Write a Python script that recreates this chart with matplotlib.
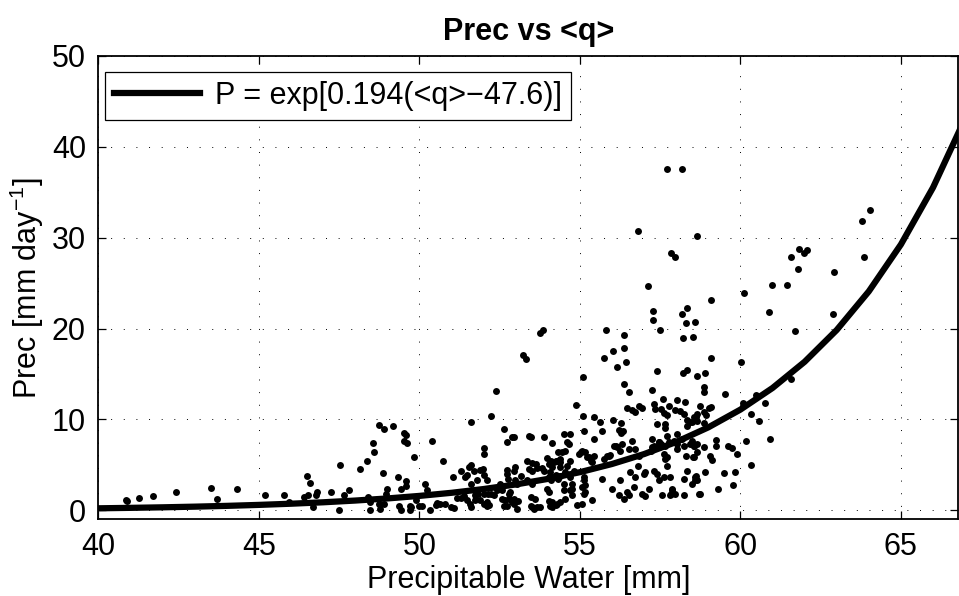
import numpy as np
import matplotlib
matplotlib.use("Agg")
import matplotlib.pyplot as plt

plt.rcParams['font.family'] = ['Liberation Sans', 'DejaVu Sans']
plt.rcParams['mathtext.fontset'] = 'custom'
plt.rcParams['mathtext.rm'] = 'Liberation Sans'
plt.rcParams['mathtext.it'] = 'Liberation Sans'

q_obs = [
    40.86, 40.90, 41.27, 41.69, 42.43, 43.50, 43.68, 44.32, 45.18, 45.78, 45.93, 46.39,
    46.52, 46.51, 46.60, 46.69, 46.77, 46.82, 47.25, 47.51, 47.50, 47.64, 47.81, 48.16,
    48.37, 48.55, 48.59, 48.75, 48.89, 49.19, 49.53, 49.57, 49.53, 49.62, 48.85, 49.32,
    49.58, 49.58, 49.41, 49.00, 48.96, 48.40, 48.45, 48.73, 48.89, 48.78, 48.45, 49.37,
    49.41, 49.70,
    52.37, 52.23, 51.60, 52.63, 52.87, 52.94, 52.73, 53.41, 53.48, 53.87, 54.13, 50.39,
    49.83, 50.72, 52.02, 52.02, 51.03, 51.28, 51.43, 51.48, 51.54, 51.61, 51.70, 51.78,
    51.90, 51.98, 52.00, 52.09, 51.60, 50.17, 50.24, 49.88, 49.70, 49.75, 49.98, 50.08,
    50.34, 50.52, 50.65, 50.79, 50.97, 51.07, 51.17, 51.28, 51.40, 51.59, 51.62, 51.74,
    51.81, 51.90, 52.00, 52.09, 52.13, 52.23, 52.31, 52.42, 52.52, 52.57, 52.73, 52.75,
    52.83, 52.73, 52.99, 52.94, 52.99, 53.04, 52.78, 52.94, 53.06, 52.63, 52.73, 52.94,
    53.04, 53.35, 53.51, 53.64, 53.66, 53.40, 53.51, 53.82, 53.98, 54.10, 54.24, 53.87,
    54.03, 54.10, 53.35, 53.51, 53.98, 54.03, 53.46, 53.61, 53.66, 53.51, 53.56, 53.77,
    54.03, 54.13, 54.08, 54.32, 54.37, 54.24, 54.31,
    53.15, 54.03, 54.08, 51.48, 51.74, 52.00, 52.09, 52.57, 52.68, 52.78, 52.88, 53.46,
    54.29, 50.55, 52.16,
    56.38, 56.54, 57.24, 54.87, 55.08, 55.12, 55.43, 55.64, 55.69, 55.43, 56.02, 56.29,
    56.21, 56.35, 56.29, 56.46, 56.62, 56.70, 56.83, 56.93, 57.32, 57.35, 57.58, 57.77,
    57.54, 57.61, 57.71, 58.02, 58.26, 57.97, 58.11, 58.23, 58.33, 58.54, 58.65, 57.40,
    57.66, 57.66, 57.71, 58.02, 58.33, 58.44, 57.25, 57.45, 57.51, 57.77, 57.93, 58.02,
    58.18, 58.02, 58.23, 58.44, 58.54, 58.29, 58.54, 58.65,
    54.50, 54.70, 54.60, 54.55, 54.44, 54.39, 54.29, 54.18, 54.13, 54.39, 54.60, 54.80,
    55.02, 55.17, 55.22, 55.33, 55.43, 55.74, 55.90, 56.11, 56.26, 56.52, 56.73, 56.62,
    56.83, 57.20, 57.30, 57.45, 57.61, 57.71,
    54.18, 54.39, 54.55, 54.70, 54.50, 54.75, 55.12, 55.12, 55.07, 55.12, 54.70, 54.75,
    54.55, 54.39, 54.24, 54.13, 54.91, 55.05, 55.38, 55.69, 56.00, 56.21, 56.26, 56.37,
    56.52, 56.57, 56.68, 56.80, 56.94, 57.04, 57.14, 57.30, 57.45, 57.40, 57.61, 57.71,
    57.66, 57.82, 57.87, 57.82, 57.56, 57.97, 58.23, 58.23, 58.34, 58.60, 58.65, 58.70,
    54.49, 54.75, 55.15, 55.17, 56.47, 56.71, 56.99, 57.02, 57.87, 57.85,
    54.65, 56.05, 56.16, 56.31, 57.25, 57.35, 57.45, 57.66, 54.70, 54.96, 55.07, 55.27,
    55.38, 55.84, 55.95,
    58.88, 58.88, 59.52, 60.47, 60.07, 60.77, 60.33, 60.59, 58.75, 59.07, 59.02, 58.86,
    58.94, 58.63, 58.65, 58.50, 58.88,
    58.50, 58.55, 58.65, 58.86, 59.23, 59.23, 59.60, 59.74, 59.90, 60.16, 60.93, 59.04,
    59.11, 58.52, 58.90, 59.48, 59.82, 60.33, 58.63, 58.60, 58.50, 59.29, 59.77, 58.73,
    53.77, 53.85, 53.23, 53.32, 55.08,
    57.84, 57.97, 57.11, 59.08, 60.11, 57.28, 57.28, 58.18, 58.32, 58.31, 58.57, 55.80,
    57.49, 56.36, 58.22, 58.52, 56.03, 56.36, 55.76, 56.42, 56.16, 59.08, 60.03, 57.40,
    58.21, 58.32, 58.65, 58.90,
    57.71, 58.18, 56.80, 58.65,
    64.04, 63.78, 61.84, 61.97, 62.06, 61.58, 63.86, 61.80, 62.92, 60.98, 61.45, 60.89,
    62.87, 61.71, 61.58,
]
p_obs = [
    1.17, 1.00, 1.39, 1.53, 1.97, 2.44, 1.24, 2.30, 1.68, 1.68, 0.91, 1.50,
    1.68, 3.80, 3.03, 0.33, 1.68, 1.97, 1.97, 5.00, 0.03, 1.68, 2.22, 4.56,
    5.44, 7.41, 6.39, 9.42, 8.95, 9.28, 8.47, 8.30, 7.59, 7.41, 4.13, 3.65,
    3.21, 2.70, 2.30, 2.40, 1.79, 1.50, 0.91, 0.73, 0.73, 0.18, 0.00, 0.44,
    0.00, 0.00,
    13.18, 10.33, 9.70, 8.95, 8.03, 8.03, 7.56, 8.14, 8.03, 8.03, 7.45, 7.59,
    5.91, 5.44, 6.82, 6.24, 3.65, 4.38, 3.65, 3.90, 4.74, 5.00, 4.30, 3.36,
    4.46, 4.53, 3.90, 3.29, 2.92, 2.85, 2.19, 1.10, 0.50, 0.40, 0.47, 0.47,
    0.00, 0.55, 0.66, 0.66, 0.37, 0.25, 1.39, 1.39, 1.53, 0.73, 0.37, 1.64,
    1.83, 1.10, 0.73, 0.44, 1.83, 1.75, 1.64, 2.19, 2.92, 2.19, 4.00, 3.47,
    2.00, 4.40, 4.82, 4.38, 3.29, 2.92, 1.28, 1.28, 1.02, 0.44, 0.44, 0.73,
    0.18, 5.48, 5.18, 5.10, 4.67, 4.56, 4.30, 4.67, 5.77, 5.48, 5.40, 4.30,
    3.65, 3.29, 3.29, 2.92, 2.38, 2.00, 1.46, 1.28, 0.37, 0.37, 0.18, 0.37,
    1.02, 0.91, 0.44, 6.39, 5.30, 3.94, 3.47,
    3.83, 5.11, 4.20, 1.10, 1.10, 1.83, 0.91, 1.28, 1.10, 1.83, 0.91, 0.44,
    0.73, 0.80, 0.55,
    13.94, 13.03, 13.22, 11.54, 10.33, 8.76, 10.22, 9.67, 8.69, 7.85, 9.93, 9.56,
    8.84, 8.76, 8.47, 11.25, 11.03, 10.77, 11.50, 11.25, 11.75, 11.14, 12.30, 11.50,
    11.14, 10.66, 10.51, 12.12, 11.97, 11.03, 10.88, 10.59, 9.93, 10.22, 10.59, 9.49,
    9.49, 9.05, 8.21, 8.40, 9.31, 9.67, 7.85, 7.56, 7.30, 7.48, 7.67, 7.30,
    7.85, 6.76, 7.12, 7.30, 7.12, 6.02, 5.91, 6.39,
    8.40, 8.40, 7.48, 6.57, 6.39, 5.66, 5.48, 5.30, 4.74, 4.74, 4.93, 4.38,
    6.39, 6.39, 5.84, 5.48, 6.02, 5.66, 6.02, 7.12, 6.57, 6.76, 6.76, 7.67,
    6.02, 6.57, 7.12, 6.93, 6.21, 5.84,
    3.65, 3.83, 4.20, 3.65, 2.92, 2.92, 3.65, 3.29, 2.55, 1.83, 2.19, 1.64,
    1.28, 0.91, 0.55, 0.37, 0.55, 0.66, 1.10, 3.47, 2.38, 1.64, 3.29, 1.28,
    1.64, 4.20, 2.55, 4.93, 1.83, 4.20, 2.38, 4.38, 3.29, 4.02, 3.65, 4.93,
    5.66, 3.65, 2.38, 1.64, 1.64, 1.83, 1.64, 3.47, 4.38, 3.65, 3.29, 1.83,
    2.19, 2.38, 2.74, 2.00, 2.00, 3.65, 4.02, 1.53, 2.19, 1.75,
    7.30, 7.12, 6.93, 7.30, 7.01, 6.93, 7.48, 7.12, 5.48, 6.21, 6.57, 5.84,
    5.30, 6.02, 6.13,
    13.60, 13.03, 12.85, 12.70, 11.83, 11.83, 10.59, 9.82, 11.50, 11.39, 11.25, 10.77,
    10.51, 10.30, 9.78, 9.67, 9.56,
    7.67, 7.12, 7.30, 6.93, 7.74, 7.12, 7.12, 6.83, 6.21, 7.59, 7.85, 6.02,
    5.55, 5.91, 4.27, 4.13, 4.27, 5.00, 3.76, 3.36, 2.85, 2.30, 2.74, 1.83,
    19.53, 19.80, 17.09, 16.68, 14.68,
    28.29, 27.85, 24.68, 23.19, 23.91, 21.94, 20.89, 21.65, 22.23, 20.59, 20.73, 19.82,
    19.82, 19.24, 18.91, 19.06, 17.56, 17.85, 16.79, 16.35, 15.77, 16.79, 16.35, 15.30,
    15.15, 15.44, 14.82, 15.11,
    37.53, 37.53, 30.74, 30.12,
    33.00, 31.80, 28.77, 28.29, 28.59, 27.85, 27.85, 26.50, 26.18, 24.83, 24.83, 21.83,
    21.65, 19.72, 14.42,
]

# fitted curve P = exp[0.194(<q>-47.6)], values at whole millimetres
q_fit = [40, 41, 42, 43, 44, 45, 46, 47, 48, 49, 50, 51, 52, 53,
         54, 55, 56, 57, 58, 59, 60, 61, 62, 63, 64, 65, 66, 67]
p_fit = [0.229, 0.278, 0.337, 0.410, 0.497, 0.604, 0.733, 0.890, 1.081, 1.312,
         1.593, 1.934, 2.348, 2.851, 3.461, 4.202, 5.102, 6.194, 7.520, 9.130,
         11.085, 13.459, 16.340, 19.838, 24.085, 29.241, 35.50, 43.10]

fig = plt.figure(figsize=(9.59, 5.96), dpi=100)
ax = fig.add_axes([0.1027, 0.1284, 0.8963, 0.7781])

ax.plot(q_obs, p_obs, 'o', color='k', markersize=5.0, markeredgewidth=0, zorder=2)
ax.plot(q_fit, p_fit, '-', color='k', linewidth=4.5, zorder=3,
        label='P = exp[0.194(<q>\u221247.6)]')

ax.set_xlim(40, 66.78)
ax.set_ylim(-1, 50)
ax.set_xticks([40, 45, 50, 55, 60, 65])
ax.set_yticks([0, 10, 20, 30, 40, 50])
ax.grid(True, color='k', linewidth=0.7, linestyle=(0, (1, 12)))
ax.tick_params(direction='in', top=True, right=True, length=6, width=0.9,
               labelsize=22, pad=9)
for s in ax.spines.values():
    s.set_linewidth(1.3)

ax.set_xlabel('Precipitable Water [mm]', fontsize=22, labelpad=2)
ax.set_ylabel('Prec [mm day$^{\u22121}$]', fontsize=22, labelpad=4)
ax.set_title('Prec vs <q>', fontsize=22, fontweight='bold', pad=11)

leg = ax.legend(loc='upper left', bbox_to_anchor=(0.0076, 0.965), borderaxespad=0,
                fontsize=22, handlelength=2.8, handletextpad=0.5, frameon=True,
                fancybox=False, framealpha=1, edgecolor='k', borderpad=0.3)
leg.get_frame().set_linewidth(0.9)

fig.savefig('out.png', dpi=100)
